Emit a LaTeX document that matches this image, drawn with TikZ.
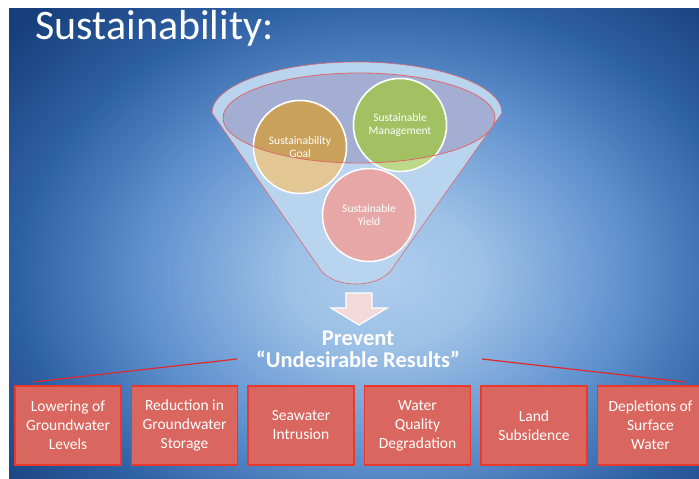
\documentclass[tikz,border=0pt]{standalone}
\usepackage{fontspec}
\setmainfont{Carlito}
\usetikzlibrary{positioning}

\definecolor{glowin}{HTML}{AECDEE}
\definecolor{glowlt}{HTML}{9CC0E6}
\definecolor{glowmid}{HTML}{5E90CE}
\definecolor{glowdk}{HTML}{2E60A4}
\definecolor{glowout}{HTML}{173F7C}
\definecolor{funnelblue}{HTML}{B9D4EE}
\definecolor{rimgray}{HTML}{A3AED2}
\definecolor{rimred}{HTML}{E06868}
\definecolor{goallt}{HTML}{E2C795}
\definecolor{goaldk}{HTML}{C9A15A}
\definecolor{managelt}{HTML}{BCD98A}
\definecolor{managedk}{HTML}{A2C162}
\definecolor{yieldlt}{HTML}{E8A7A7}
\definecolor{arrowpink}{HTML}{F3D9D9}
\definecolor{harmred}{HTML}{D9675F}
\definecolor{harmline}{HTML}{E8392C}
\definecolor{linered}{HTML}{E02A2A}

\pgfdeclareradialshading{slideglow}{\pgfpoint{0bp}{0bp}}{color(0bp)=(glowin); color(5bp)=(glowlt); color(12.5bp)=(glowmid); color(18.75bp)=(glowdk); color(25bp)=(glowout); color(50bp)=(glowout)}

\begin{document}
\begin{tikzpicture}[x=1pt, y=-1pt]
\tikzset{ harm/.style={fill=harmred, draw=harmline, line width=1.8pt, minimum width=106pt, minimum height=79pt, inner sep=0pt, align=center, text=white, font=\fontsize{15.5}{19}\selectfont},
  ball/.style={circle, draw=white, line width=1.5pt, minimum size=93pt, inner sep=0pt},
  balltext/.style={align=center, text=white, font=\fontsize{11.5}{12.5}\selectfont},
  headline/.style={anchor=base, text=white, font=\bfseries\fontsize{22.5}{24}\selectfont} }

\useasboundingbox (0,0) rectangle (699,479);
\fill [white] (0,0) rectangle (699,479);

% slide background
\begin{scope}
\clip (9,8) rectangle (699,479);
\fill [glowout] (9,8) rectangle (699,479);
\shade [shading=slideglow] (385,275) ellipse (490 and 370);
\end{scope}

\node [anchor=base west, text=white, font=\fontsize{42}{46}\selectfont] (title) at (32,39) {Sustainability:};

% funnel
\filldraw [fill=funnelblue, draw=rimred, line width=0.6pt] (212,113) -- (318,266)
  .. controls (330,290) and (382,290) .. (394,266) -- (502,113)
  .. controls (502,85) and (437,62) .. (357,62)
  .. controls (277,62) and (212,85) .. (212,113) -- cycle;
\fill [rimgray] (359,118) ellipse (136 and 45);

\node [ball, fill=goallt] (goal) at (300,147) {};
\node [ball, fill=managelt] (manage) at (400,125) {};
\node [ball, fill=yieldlt] (yield) at (369,215) {};

\begin{scope}
\clip (359,118) ellipse (136 and 45);
\filldraw [fill=goaldk, draw=white, line width=1.5pt] (goal) circle (46.5);
\filldraw [fill=managedk, draw=white, line width=1.5pt] (manage) circle (46.5);
\end{scope}
\draw [rimred, line width=0.8pt] (359,118) ellipse (136 and 45);

\node [balltext] (goaltxt) at (goal) {Sustainability\\Goal};
\node [balltext] (managetxt) at (manage) {Sustainable\\Management};
\node [balltext] (yieldtxt) at (yield) {Sustainable\\Yield};

% arrow and headline
\filldraw [fill=arrowpink, draw=white, line width=1.2pt] (346,293) -- (372,293) -- (372,308) -- (387,308)
  -- (359,325) -- (331,308) -- (346,308) -- cycle;
\node [headline] (prevent) at (358,345) {Prevent};
\node [headline] (undesired) at (358,367) {“Undesirable Results”};

\coordinate (lfrom) at (33,382);
\coordinate (lto) at (237,359);
\coordinate (rfrom) at (482,359);
\coordinate (rto) at (685,382);
\draw [linered, line width=1.2pt] (lfrom) -- (lto);
\draw [linered, line width=1.2pt] (rfrom) -- (rto);

% undesirable results
\node [harm] (lowering) at (68,425.5) {Lowering of\\Groundwater\\Levels};
\node [harm] (reduction) at (184.5,425.5) {Reduction in\\Groundwater\\Storage};
\node [harm] (seawater) at (301,425.5) {Seawater\\Intrusion};
\node [harm] (quality) at (417.5,425.5) {Water\\Quality\\Degradation};
\node [harm] (subside) at (534,425.5) {Land\\Subsidence};
\node [harm] (deplete) at (650.5,425.5) {Depletions of\\Surface\\Water};

\end{tikzpicture}
\end{document}
